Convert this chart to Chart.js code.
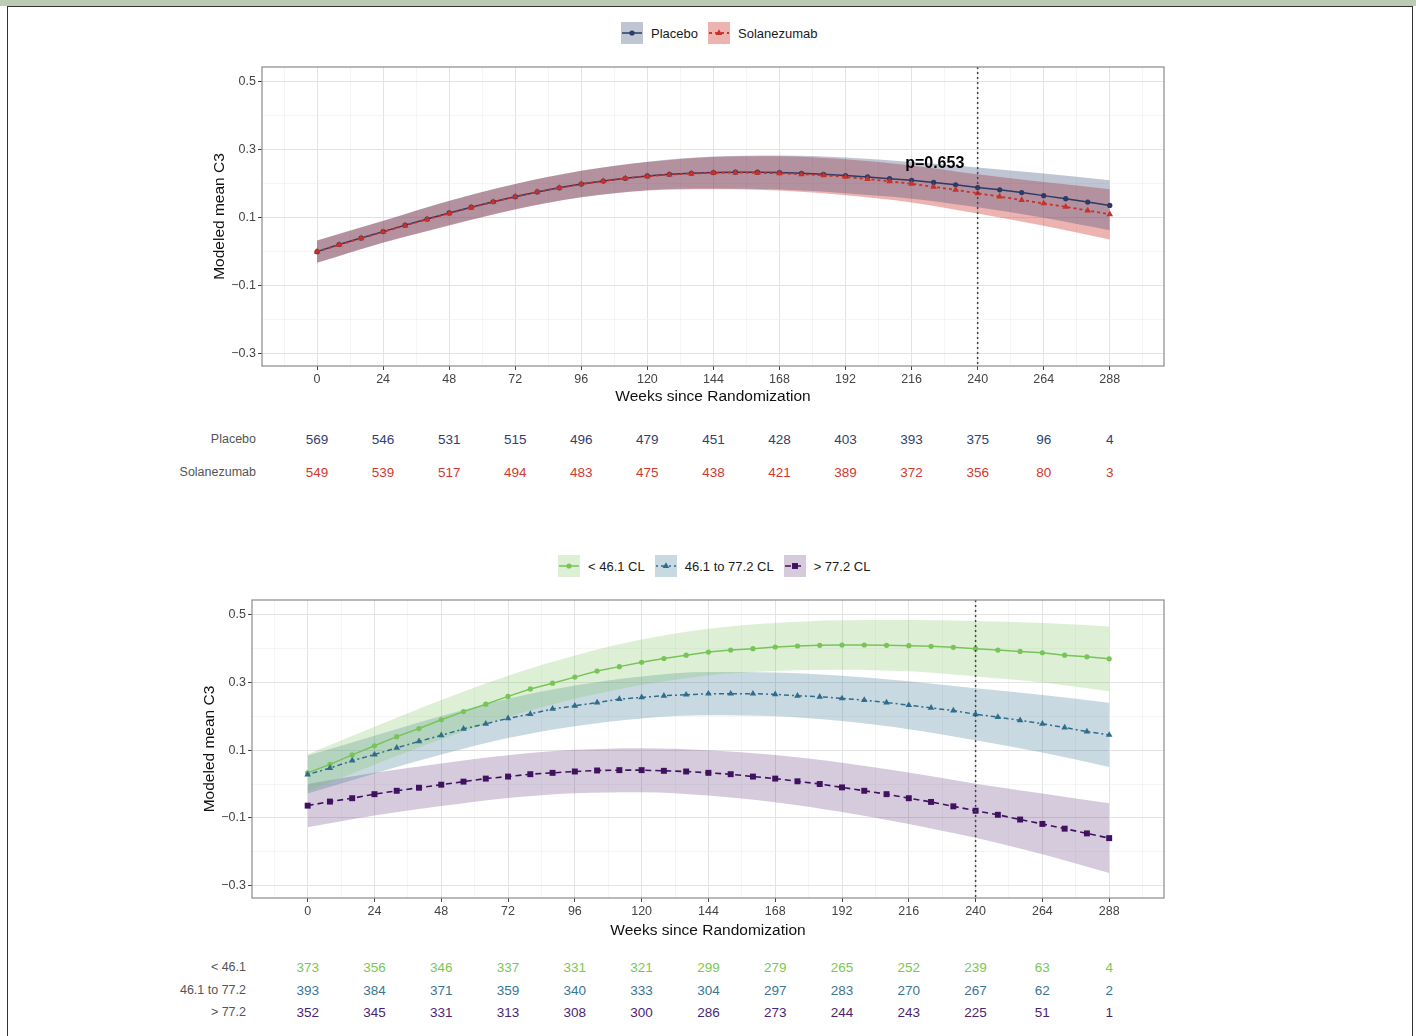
<!DOCTYPE html>
<html>
<head>
<meta charset="utf-8">
<script src="https://cdn.jsdelivr.net/npm/chart.js@4.4.1/dist/chart.umd.min.js"></script>
<style>
  body { margin: 0; background: #fff; font-family: "Liberation Sans", Arial, sans-serif; }
  #page { position: relative; width: 1416px; height: 1036px; overflow: hidden; }
  #strip { position: absolute; left: 0; top: 0; width: 1416px; height: 6px; background: #bacdb2; }
  #frame { position: absolute; left: 7px; top: 6px; width: 1404px; height: 1100px; border: 1px solid #333; border-bottom: none; }
  .plot { position: absolute; left: 0; }
  .legend { position: absolute; display: flex; align-items: center; height: 22px; font-size: 13px; color: #1a1a1a; }
  .legend canvas { margin-right: 8px; }
  .legend span { margin-right: 10px; }
  .cell { position: absolute; transform: translate(-50%, -50%); font-size: 13.5px; white-space: nowrap; }
  .rowlab { position: absolute; transform: translate(-100%, -50%); font-size: 12.5px; color: #555; white-space: nowrap; }
</style>
</head>
<body>
<div id="page">
  <div id="strip"></div>
  <div id="frame"></div>
  <div class="legend" id="legendTop" style="left:621px; top:22px;"></div>
  <canvas class="plot" id="chartTop" width="1416" height="380" style="top:40px;"></canvas>
  <div class="legend" id="legendBottom" style="left:558px; top:555px;"></div>
  <canvas class="plot" id="chartBottom" width="1416" height="372" style="top:580px;"></canvas>
</div>
<script>
// modelled weeks (one point every 8 weeks) and risk-table weeks
const weeks = [0, 8, 16, 24, 32, 40, 48, 56, 64, 72, 80, 88, 96, 104, 112, 120, 128, 136, 144,
               152, 160, 168, 176, 184, 192, 200, 208, 216, 224, 232, 240, 248, 256, 264, 272, 280, 288];
const tableWeeks = [0, 24, 48, 72, 96, 120, 144, 168, 192, 216, 240, 264, 288];
const xGridWeeks = [-12, 0, 12, 24, 36, 48, 60, 72, 84, 96, 108, 120, 132, 144, 156, 168, 180,
                    192, 204, 216, 228, 240, 252, 264, 276, 288, 300];
const yMajor = [-0.3, -0.1, 0.1, 0.3, 0.5];
const yMajorLabels = ['\u22120.3', '\u22120.1', '0.1', '0.3', '0.5'];
const yMinor = [-0.2, 0, 0.2, 0.4];

// top panel: treatment groups
const placebo = [0.000, 0.021, 0.040, 0.059, 0.078, 0.096, 0.114, 0.131, 0.147, 0.162, 0.176, 0.188,
                 0.199, 0.208, 0.216, 0.223, 0.228, 0.231, 0.233, 0.234, 0.234, 0.233, 0.231, 0.228,
                 0.224, 0.220, 0.215, 0.210, 0.204, 0.197, 0.189, 0.182, 0.174, 0.165, 0.156, 0.146, 0.136];
const solanezumab = [0.000, 0.020, 0.039, 0.058, 0.077, 0.095, 0.113, 0.130, 0.146, 0.162, 0.176, 0.188,
                     0.199, 0.208, 0.216, 0.222, 0.227, 0.230, 0.232, 0.233, 0.232, 0.231, 0.228, 0.225,
                     0.220, 0.214, 0.207, 0.200, 0.191, 0.182, 0.172, 0.162, 0.152, 0.142, 0.132, 0.121, 0.110];
const placeboUpper = [0.033, 0.091, 0.150, 0.199, 0.238, 0.265, 0.280, 0.283, 0.277, 0.264, 0.248, 0.230, 0.210];
const placeboLower = [-0.033, 0.027, 0.078, 0.125, 0.160, 0.181, 0.186, 0.183, 0.172, 0.156, 0.131, 0.100, 0.063];
const solanezumabUpper = [0.033, 0.090, 0.149, 0.199, 0.238, 0.264, 0.279, 0.281, 0.272, 0.254, 0.228, 0.205, 0.184];
const solanezumabLower = [-0.033, 0.026, 0.077, 0.124, 0.160, 0.180, 0.184, 0.180, 0.166, 0.145, 0.112, 0.076, 0.036];
const placeboN = [569, 546, 531, 515, 496, 479, 451, 428, 403, 393, 375, 96, 4];
const solanezumabN = [549, 539, 517, 494, 483, 475, 438, 421, 389, 372, 356, 80, 3];

// bottom panel: baseline amyloid groups
const lowCL = [0.033, 0.058, 0.086, 0.113, 0.140, 0.164, 0.190, 0.214, 0.236, 0.259, 0.281, 0.298,
               0.316, 0.334, 0.347, 0.360, 0.371, 0.381, 0.390, 0.396, 0.400, 0.405, 0.408, 0.410,
               0.411, 0.411, 0.410, 0.409, 0.407, 0.404, 0.400, 0.396, 0.392, 0.388, 0.381, 0.376, 0.370];
const midCL = [0.028, 0.047, 0.069, 0.087, 0.107, 0.126, 0.144, 0.163, 0.178, 0.194, 0.207, 0.222,
               0.231, 0.241, 0.251, 0.256, 0.261, 0.264, 0.267, 0.267, 0.267, 0.265, 0.261, 0.258,
               0.253, 0.248, 0.241, 0.233, 0.225, 0.217, 0.206, 0.198, 0.188, 0.178, 0.167, 0.155, 0.145];
const highCL = [-0.064, -0.052, -0.042, -0.030, -0.020, -0.011, -0.002, 0.007, 0.016, 0.022, 0.029, 0.033,
                0.037, 0.040, 0.041, 0.041, 0.039, 0.037, 0.033, 0.029, 0.022, 0.016, 0.008, 0.000,
                -0.010, -0.020, -0.030, -0.042, -0.053, -0.066, -0.079, -0.091, -0.105, -0.118, -0.132, -0.146, -0.160];
const lowUpper = [0.088, 0.169, 0.248, 0.320, 0.380, 0.427, 0.459, 0.476, 0.484, 0.485, 0.482, 0.476, 0.466];
const lowLower = [-0.022, 0.057, 0.132, 0.198, 0.252, 0.293, 0.321, 0.334, 0.338, 0.333, 0.318, 0.300, 0.274];
const midUpper = [0.084, 0.143, 0.201, 0.252, 0.291, 0.318, 0.331, 0.330, 0.320, 0.304, 0.283, 0.263, 0.240];
const midLower = [-0.028, 0.031, 0.087, 0.136, 0.171, 0.194, 0.203, 0.200, 0.186, 0.162, 0.129, 0.093, 0.050];
const highUpper = [0.000, 0.033, 0.061, 0.085, 0.101, 0.106, 0.100, 0.086, 0.063, 0.034, 0.001, -0.028, -0.057];
const highLower = [-0.128, -0.093, -0.065, -0.041, -0.027, -0.024, -0.034, -0.054, -0.083, -0.118, -0.159, -0.208, -0.263];
const lowN = [373, 356, 346, 337, 331, 321, 299, 279, 265, 252, 239, 63, 4];
const midN = [393, 384, 371, 359, 340, 333, 304, 297, 283, 270, 267, 62, 2];
const highN = [352, 345, 331, 313, 308, 300, 286, 273, 244, 243, 225, 51, 1];

const topSeries = [
    { label: 'Placebo', row: 'Placebo', values: placebo, upper: placeboUpper, lower: placeboLower, n: placeboN,
      color: '#2c3a66', text: '#2f4272', band: 'rgba(60,75,120,0.32)', dash: [], point: 'circle', radius: 2.6, width: 1.5 },
    { label: 'Solanezumab', row: 'Solanezumab', values: solanezumab, upper: solanezumabUpper, lower: solanezumabLower, n: solanezumabN,
      color: '#c8302a', text: '#d2382e', band: 'rgba(205,45,40,0.36)', dash: [3, 3], point: 'triangle', radius: 3.8, width: 1.8 }
];
const bottomSeries = [
    { label: '< 46.1 CL', row: '< 46.1', values: lowCL, upper: lowUpper, lower: lowLower, n: lowN,
      color: '#78c459', text: '#7cc653', band: 'rgba(120,196,89,0.25)', dash: [], point: 'circle', radius: 2.6, width: 1.5 },
    { label: '46.1 to 77.2 CL', row: '46.1 to 77.2', values: midCL, upper: midUpper, lower: midLower, n: midN,
      color: '#2e6e8c', text: '#3a7595', band: 'rgba(46,110,140,0.26)', dash: [2, 3, 5, 3], point: 'triangle', radius: 3.8, width: 1.5 },
    { label: '> 77.2 CL', row: '> 77.2', values: highCL, upper: highUpper, lower: highLower, n: highN,
      color: '#3f1260', text: '#4c1f70', band: 'rgba(72,30,110,0.23)', dash: [6, 4], point: 'rect', radius: 4.2, width: 1.6 }
];

Chart.defaults.font.family = '"Liberation Sans", Arial, sans-serif';

// lines of later groups sit on top; ribbons keep the first group's fill uppermost
function buildDatasets(series) {
    const lines = series.slice().reverse().map(s => ({
        label: s.label,
        data: weeks.map((w, i) => ({ x: w, y: s.values[i] })),
        borderColor: s.color,
        backgroundColor: s.color,
        borderWidth: s.width,
        borderDash: s.dash,
        pointStyle: s.point,
        pointRadius: s.radius,
        pointBorderWidth: 0,
        fill: false
    }));
    const bands = [];
    series.forEach(s => {
        const lowerIndex = lines.length + bands.length;
        bands.push({
            data: tableWeeks.map((w, i) => ({ x: w, y: s.lower[i] })),
            borderWidth: 0, pointRadius: 0, fill: false, cubicInterpolationMode: 'monotone'
        });
        bands.push({
            data: tableWeeks.map((w, i) => ({ x: w, y: s.upper[i] })),
            borderWidth: 0, pointRadius: 0, backgroundColor: s.band, fill: lowerIndex, cubicInterpolationMode: 'monotone'
        });
    });
    return lines.concat(bands);
}

// panel border, dotted reference line and p-value note
const panelPlugin = {
    id: 'panel',
    afterDatasetsDraw(chart, args, opts) {
        const { ctx, chartArea: a, scales } = chart;
        const x = scales.x.getPixelForValue(opts.vline);
        ctx.save();
        ctx.strokeStyle = '#444';
        ctx.lineWidth = 1.5;
        ctx.setLineDash([2, 3]);
        ctx.beginPath();
        ctx.moveTo(x, a.top);
        ctx.lineTo(x, a.bottom);
        ctx.stroke();
        if (opts.note) {
            ctx.setLineDash([]);
            ctx.font = 'bold 16px "Liberation Sans", Arial, sans-serif';
            ctx.textAlign = 'center';
            ctx.textBaseline = 'middle';
            ctx.fillStyle = '#000';
            ctx.fillText(opts.note.text, scales.x.getPixelForValue(opts.note.x), scales.y.getPixelForValue(opts.note.y));
        }
        ctx.restore();
    },
    afterDraw(chart) {
        const { ctx, chartArea: a } = chart;
        ctx.save();
        ctx.strokeStyle = '#8a8a8a';
        ctx.lineWidth = 1.2;
        ctx.strokeRect(a.left, a.top, a.right - a.left, a.bottom - a.top);
        ctx.restore();
    }
};

function isMajorX(v) { return v >= 0 && v <= 288 && v % 24 === 0; }
function majorYIndex(v) { return yMajor.findIndex(m => Math.abs(m - v) < 1e-9); }

function makeChart(id, series, padLeft, padTop, titleBottom, pluginOpts) {
    return new Chart(document.getElementById(id), {
        type: 'line',
        data: { datasets: buildDatasets(series) },
        plugins: [panelPlugin],
        options: {
            responsive: false,
            animation: false,
            layout: { padding: { left: padLeft, top: padTop, right: 252, bottom: 0 } },
            plugins: {
                legend: { display: false },
                tooltip: { enabled: false },
                filler: { drawTime: 'beforeDatasetsDraw' },
                panel: pluginOpts
            },
            scales: {
                x: {
                    type: 'linear',
                    min: -20,
                    max: 307.7,
                    afterBuildTicks: s => { s.ticks = xGridWeeks.map(v => ({ value: v })); },
                    afterFit: s => { s.height = 54; },
                    ticks: {
                        autoSkip: false, maxRotation: 0, padding: 2,
                        color: '#444', font: { size: 12.5 },
                        callback: v => isMajorX(v) ? String(v) : ''
                    },
                    grid: {
                        color: c => isMajorX(c.tick.value) ? '#e3e3e3' : '#f0f0f0',
                        lineWidth: c => isMajorX(c.tick.value) ? 1 : 0.7,
                        tickLength: 4,
                        tickColor: c => isMajorX(c.tick.value) ? '#444' : 'rgba(0,0,0,0)',
                        tickWidth: 1
                    },
                    border: { display: false },
                    title: {
                        display: true, text: 'Weeks since Randomization', color: '#111',
                        font: { size: 15.5 }, padding: { top: 0, bottom: titleBottom }
                    }
                },
                y: {
                    type: 'linear',
                    min: -0.337,
                    max: 0.544,
                    afterBuildTicks: s => {
                        s.ticks = yMajor.concat(yMinor).sort((a, b) => a - b).map(v => ({ value: v }));
                    },
                    afterFit: s => { s.width = 57; },
                    ticks: {
                        autoSkip: false, padding: 2,
                        color: '#444', font: { size: 12.5 },
                        callback: v => { const i = majorYIndex(v); return i >= 0 ? yMajorLabels[i] : ''; }
                    },
                    grid: {
                        color: c => majorYIndex(c.tick.value) >= 0 ? '#e3e3e3' : '#f0f0f0',
                        lineWidth: c => majorYIndex(c.tick.value) >= 0 ? 1 : 0.7,
                        tickLength: 4,
                        tickColor: c => majorYIndex(c.tick.value) >= 0 ? '#444' : 'rgba(0,0,0,0)',
                        tickWidth: 1
                    },
                    border: { display: false },
                    title: {
                        display: true, text: 'Modeled mean C3', color: '#111',
                        font: { size: 15.5 }, padding: { top: 5, bottom: 0 }
                    }
                }
            }
        }
    });
}

function drawKey(s) {
    const cv = document.createElement('canvas');
    cv.width = 22; cv.height = 22;
    const g = cv.getContext('2d');
    g.fillStyle = s.band;
    g.fillRect(0, 0, 22, 22);
    g.strokeStyle = s.color;
    g.lineWidth = s.width;
    g.setLineDash(s.dash);
    g.beginPath(); g.moveTo(1, 11); g.lineTo(21, 11); g.stroke();
    g.fillStyle = s.color;
    g.beginPath();
    if (s.point === 'circle') {
        g.arc(11, 11, s.radius, 0, Math.PI * 2);
    } else if (s.point === 'triangle') {
        g.moveTo(11, 11 - s.radius);
        g.lineTo(11 + s.radius * 0.87, 11 + s.radius * 0.5);
        g.lineTo(11 - s.radius * 0.87, 11 + s.radius * 0.5);
        g.closePath();
    } else {
        const h = s.radius * Math.SQRT1_2;
        g.rect(11 - h, 11 - h, 2 * h, 2 * h);
    }
    g.fill();
    return cv;
}

function buildLegend(id, series) {
    const box = document.getElementById(id);
    series.forEach(s => {
        box.appendChild(drawKey(s));
        const t = document.createElement('span');
        t.textContent = s.label;
        box.appendChild(t);
    });
}

function addText(cls, text, x, y, color) {
    const el = document.createElement('div');
    el.className = cls;
    el.textContent = text;
    el.style.left = x + 'px';
    el.style.top = y + 'px';
    if (color) el.style.color = color;
    document.getElementById('page').appendChild(el);
}

function buildTable(chart, series, rowTops) {
    const xs = chart.scales.x;
    series.forEach((s, r) => {
        addText('rowlab', s.row, chart.chartArea.left - 6, rowTops[r]);
        tableWeeks.forEach((w, i) => addText('cell', s.n[i], xs.getPixelForValue(w), rowTops[r], s.text));
    });
}

const chartTop = makeChart('chartTop', topSeries, 205, 27, 14,
    { vline: 240, note: { text: 'p=0.653', x: 224.4, y: 0.259 } });
const chartBottom = makeChart('chartBottom', bottomSeries, 195, 20, 12, { vline: 240 });

buildLegend('legendTop', topSeries);
buildLegend('legendBottom', bottomSeries);
buildTable(chartTop, topSeries, [439, 472]);
buildTable(chartBottom, bottomSeries, [967, 990, 1012]);
</script>
</body>
</html>
